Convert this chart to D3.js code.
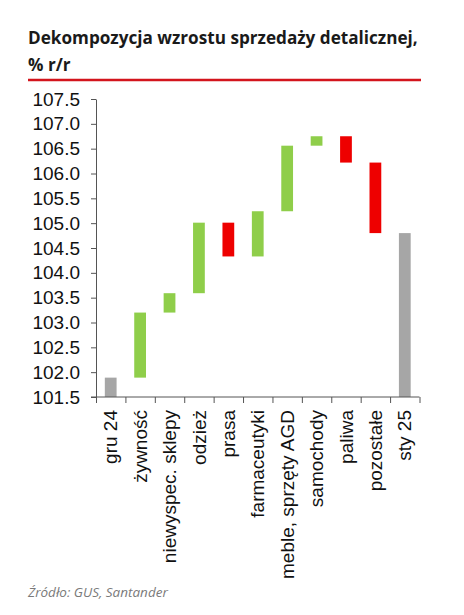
<!DOCTYPE html>
<html>
<head>
<meta charset="utf-8">
<script src="https://cdn.jsdelivr.net/npm/d3@7"></script>
<style>
  html, body { margin: 0; padding: 0; background: #fff; }
  svg { display: block; }
</style>
</head>
<body>
<svg id="chart" width="464" height="615"></svg>
<script>
// ---- data ----
const categories = ["gru 24", "żywność", "niewyspec. sklepy", "odzież", "prasa", "farmaceutyki", "meble, sprzęty AGD", "samochody", "paliwa", "pozostałe", "sty 25"];
const startLevel = 101.89;          // gru 24
const contributions = [1.31, 0.39, 1.42, -0.68, 0.91, 1.32, 0.19, -0.53, -1.42]; // components
const endLevel = 104.80;            // sty 25
const yTicks = [101.5, 102.0, 102.5, 103.0, 103.5, 104.0, 104.5, 105.0, 105.5, 106.0, 106.5, 107.0, 107.5];
const titleLines = ["Dekompozycja wzrostu sprzedaży detalicznej,", "% r/r"];
const sourceText = "Źródło: GUS, Santander";

// ---- build waterfall segments ----
const baseValue = yTicks[0];
const segments = [];
segments.push({cat: categories[0], lo: baseValue, hi: startLevel, type: "total"});
let level = startLevel;
contributions.forEach((d, i) => {
  const next = level + d;
  segments.push({cat: categories[i + 1], lo: Math.min(level, next), hi: Math.max(level, next), type: d >= 0 ? "up" : "down"});
  level = next;
});
segments.push({cat: categories[categories.length - 1], lo: baseValue, hi: endLevel, type: "total"});

const colors = {up: "#8fce4a", down: "#ee0000", total: "#a6a6a6"};

const svg = d3.select("#chart");
const pLeft = 96, pRight = 419.5, pTop = 99, pBottom = 397;

const x = d3.scaleBand().domain(categories).range([pLeft, pRight]).paddingInner(0.6).paddingOuter(0.3);
const y = d3.scaleLinear().domain([yTicks[0], yTicks[yTicks.length - 1]]).range([pBottom, pTop]);

// title
const title = svg.append("g").attr("font-family", "'Open Sans', sans-serif").attr("font-weight", "bold").attr("fill", "#1a1a1a");
const t1 = title.append("text").attr("x", 28).attr("y", 44).attr("font-size", 18).text(titleLines[0]);
const w1 = t1.node().getComputedTextLength();
const titleSize = 18 * 390 / w1;
t1.attr("font-size", titleSize);
title.append("text").attr("x", 28).attr("y", 71).attr("font-size", titleSize).text(titleLines[1]);
svg.append("line").attr("x1", 28).attr("x2", 421).attr("y1", 80).attr("y2", 80)
  .attr("stroke", "#d3141c").attr("stroke-width", 2.6);

// bars
svg.append("g").selectAll("rect").data(segments).join("rect")
  .attr("x", d => x(d.cat))
  .attr("width", x.bandwidth())
  .attr("y", d => y(d.hi))
  .attr("height", d => y(d.lo) - y(d.hi))
  .attr("fill", d => colors[d.type]);

// y axis
const yAxis = svg.append("g").attr("transform", `translate(${pLeft},0)`)
  .call(d3.axisLeft(y).tickValues(yTicks).tickFormat(d3.format(".1f")).tickSize(5).tickPadding(11).tickSizeOuter(0));
yAxis.selectAll("text").attr("font-family", "'Liberation Sans', Arial, sans-serif").attr("font-size", 19).attr("fill", "#111");
yAxis.selectAll("line, path").attr("stroke", "#555");

// x axis: boundary ticks
const xb = d3.scaleLinear().domain([0, categories.length]).range([pLeft, pRight]);
const xAxis = svg.append("g").attr("transform", `translate(0,${pBottom})`)
  .call(d3.axisBottom(xb).tickValues(d3.range(categories.length + 1)).tickFormat("").tickSize(6).tickSizeOuter(0));
xAxis.selectAll("line, path").attr("stroke", "#555");
xAxis.select("path").attr("d", `M${pLeft - 5},0H${pRight}`);

// x labels
const xLab = svg.append("g").attr("transform", `translate(0,${pBottom})`)
  .call(d3.axisBottom(x).tickSize(0).tickPadding(0));
xLab.select("path").remove();
xLab.selectAll("text")
  .attr("font-family", "'Liberation Sans', Arial, sans-serif").attr("font-size", 19).attr("fill", "#111")
  .attr("text-anchor", "end")
  .attr("transform", "rotate(-90)")
  .attr("x", -13).attr("y", 0).attr("dy", "0.35em");

// source
svg.append("text").attr("x", 28).attr("y", 597)
  .attr("font-family", "'Open Sans', sans-serif").attr("font-style", "italic").attr("font-size", 13.5)
  .attr("fill", "#7a7a7a").text(sourceText);
</script>
</body>
</html>
